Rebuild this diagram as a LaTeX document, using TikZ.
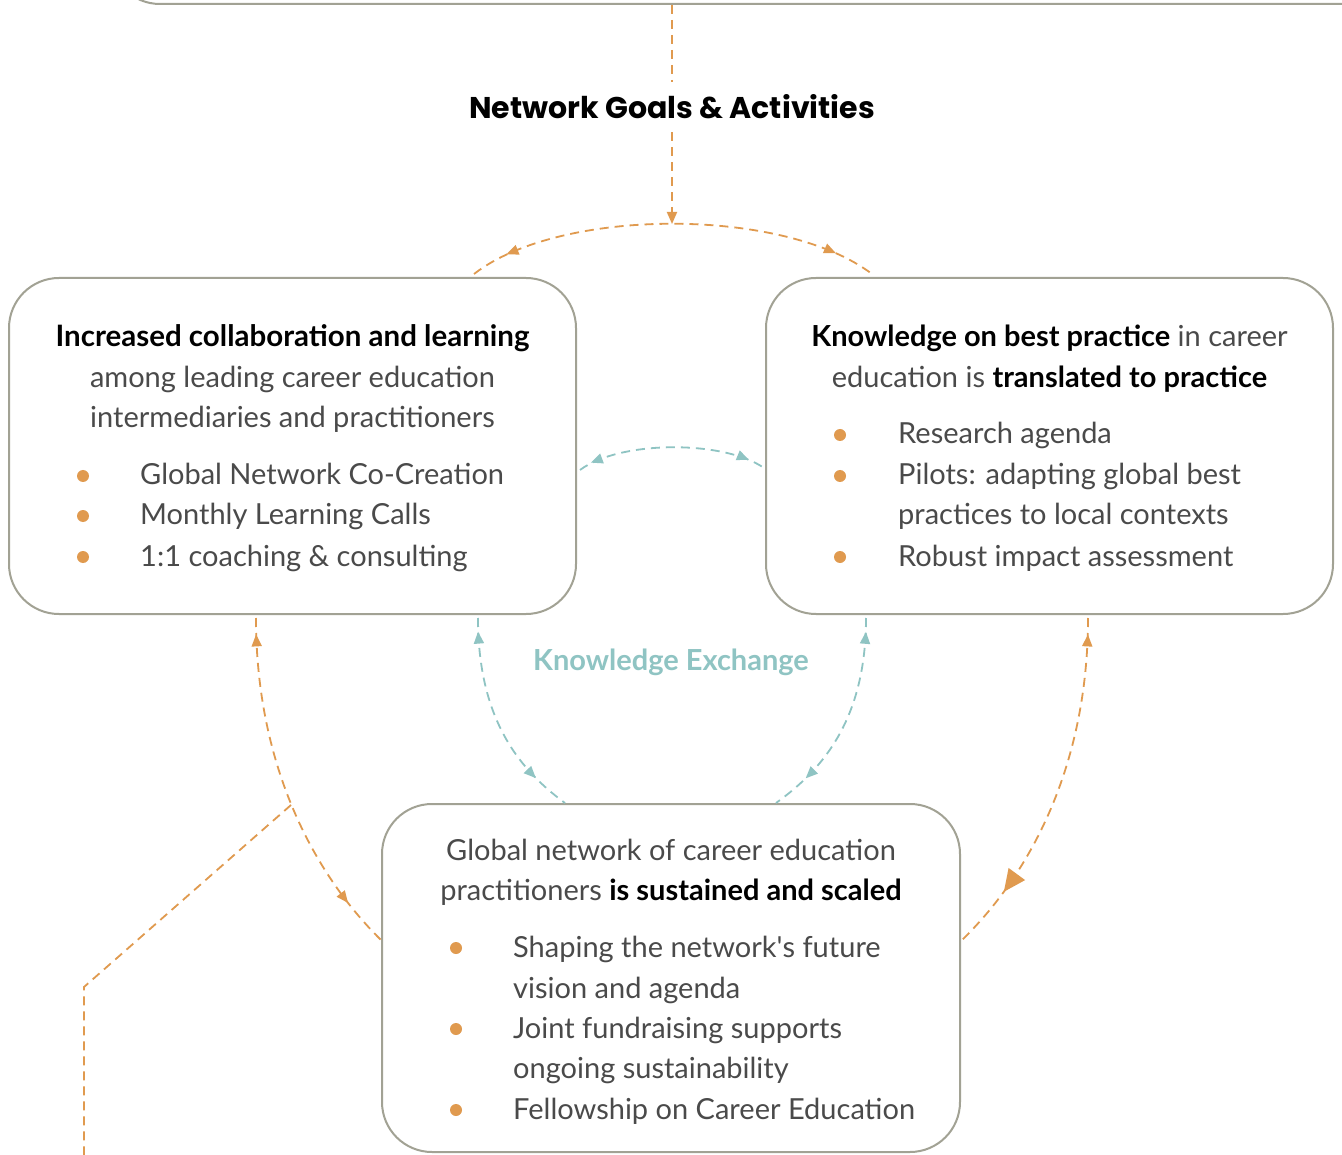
\documentclass[tikz,border=0pt]{standalone}
\usepackage{fontspec}
\setmainfont{Lato}
\newfontfamily\titlefont{Poppins}
\usetikzlibrary{arrows.meta,decorations.markings}
\definecolor{org}{HTML}{E09A4F}
\definecolor{tealc}{HTML}{8FC4C3}
\definecolor{edgec}{HTML}{A2A294}
\definecolor{txt}{HTML}{4A4A4A}
\tikzset{
  box/.style={draw=edgec, line width=2pt, rounded corners=50pt, inner sep=0pt, fill=white},
  tline/.style={anchor=base, inner sep=0pt, font=\fontsize{29}{40}\selectfont, text=txt},
  lline/.style={tline, anchor=base west},
  bdot/.style={circle, fill=org, minimum size=12pt, inner sep=0pt},
  oflow/.style={draw=org, line width=1.8pt, dash pattern=on 9pt off 6pt},
  tflow/.style={draw=tealc, line width=1.8pt, dash pattern=on 9pt off 6pt},
  twoarrows/.style n args={3}{postaction={decorate}, decoration={markings,
      mark=at position #1 with {\arrow[#3]{Triangle[reversed,length=12pt,width=10pt]}},
      mark=at position #2 with {\arrow[#3]{Triangle[length=12pt,width=10pt]}}}},
  twoarrowsbig/.style n args={3}{postaction={decorate}, decoration={markings,
      mark=at position #1 with {\arrow[#3]{Triangle[reversed,length=12pt,width=10pt]}},
      mark=at position #2 with {\arrow[#3]{Triangle[length=22pt,width=20pt]}}}},
}
\begin{document}
\begin{tikzpicture}[x=1pt,y=-1pt]
\useasboundingbox[fill=white] (0,0) rectangle (1342,1155);

% boxes
\node[box, minimum width=1400pt, minimum height=200pt] (topbox) at (810,-96) {};
\node[box, minimum width=567pt, minimum height=336pt] (L) at (292.5,446) {};
\node[box, minimum width=567pt, minimum height=336pt] (R) at (1049.5,446) {};
\node[box, minimum width=578pt, minimum height=348pt] (B) at (671,978) {};

% title
\node[inner sep=0pt, minimum height=50pt, font=\titlefont\bfseries\fontsize{30}{36}\selectfont] (title) at (672,107) {Network Goals \& Activities};

% left box text
\node[tline, text=black] (l1) at (292.5,347) {\bfseries\fontsize{29.5}{40}\selectfont Increased collaboration and learning};
\node[tline] (l2) at (292.5,388) {among leading career education};
\node[tline] (l3) at (292.5,428) {intermediaries and practitioners};
\node[bdot] (ld1) at (83,476) {};
\node[bdot] (ld2) at (83,516) {};
\node[bdot] (ld3) at (83,557) {};
\node[lline] (lb1) at (140,485) {Global Network Co-Creation};
\node[lline] (lb2) at (140,525) {Monthly Learning Calls};
\node[lline] (lb3) at (140,566) {1:1 coaching \& consulting};

% right box text
\node[tline] (r1) at (1049.5,347) {\textcolor{black}{\bfseries Knowledge on best practice} in career};
\node[tline] (r2) at (1049.5,388) {education is \textcolor{black}{\bfseries translated to practice}};
\node[bdot] (rd1) at (840,435) {};
\node[bdot] (rd2) at (840,476) {};
\node[bdot] (rd3) at (840,557) {};
\node[lline] (rb1) at (898,444) {Research agenda};
\node[lline] (rb2) at (898,485) {Pilots: adapting global best};
\node[lline] (rb3) at (898,525) {practices to local contexts};
\node[lline] (rb4) at (898,566) {Robust impact assessment};

% bottom box text
\node[tline] (b1) at (671,860) {Global network of career education};
\node[tline] (b2) at (671,900) {practitioners \textcolor{black}{\bfseries is sustained and scaled}};
\node[bdot] (bd1) at (456,948) {};
\node[bdot] (bd2) at (456,1029) {};
\node[bdot] (bd3) at (456,1110) {};
\node[lline] (bb1) at (513,957) {Shaping the network\textquotesingle s future};
\node[lline] (bb2) at (513,998) {vision and agenda};
\node[lline] (bb3) at (513,1038) {Joint fundraising supports};
\node[lline] (bb4) at (513,1078) {ongoing sustainability};
\node[lline] (bb5) at (513,1119) {Fellowship on Career Education};

% knowledge exchange label
\node[tline, text=tealc, font=\bfseries\fontsize{29}{40}\selectfont] (KE) at (671,670) {Knowledge Exchange};

% connector end points
\coordinate (peak) at (672,224);
\coordinate (Lt) at (474,274);
\coordinate (Rt) at (872,274);
\coordinate (Lm) at (580,470);
\coordinate (Rm) at (764,468);
\coordinate (Lbt) at (478,618);
\coordinate (Bl) at (565,803);
\coordinate (Rbt) at (866,618);
\coordinate (Br) at (776,803);
\coordinate (Lbo) at (256,618);
\coordinate (Bw) at (381,940);
\coordinate (Rbo) at (1088,618);
\coordinate (Be) at (962,940);
\coordinate (fork) at (291,805);
\coordinate (bend) at (84,987);
\coordinate (down) at (84,1160);

% goals flow
\draw[oflow] (topbox.south -| title.north) -- (title.north);
\draw[oflow, -{Triangle[length=12pt,width=10pt]}] (title.south) -- (peak);
\draw[oflow, twoarrows={0.12}{0.9}{org}] (Lt) .. controls (560,207) and (784,207) .. (Rt);

% knowledge exchange flows
\draw[tflow, twoarrows={0.13}{0.91}{tealc}] (Lm) .. controls (620,440) and (724,440) .. (Rm);
\draw[tflow, twoarrows={0.12}{0.82}{tealc}] (Lbt) .. controls (478,720) and (520,770) .. (Bl);
\draw[tflow, twoarrows={0.12}{0.82}{tealc}] (Rbt) .. controls (866,720) and (822,770) .. (Br);

% outer flows
\draw[oflow, twoarrows={0.08}{0.86}{org}] (Lbo) .. controls (256,760) and (310,870) .. (Bw);
\draw[oflow, twoarrowsbig={0.08}{0.82}{org}] (Rbo) .. controls (1088,760) and (1034,870) .. (Be);
\draw[oflow] (fork) -- (bend) -- (down);
\end{tikzpicture}
\end{document}
